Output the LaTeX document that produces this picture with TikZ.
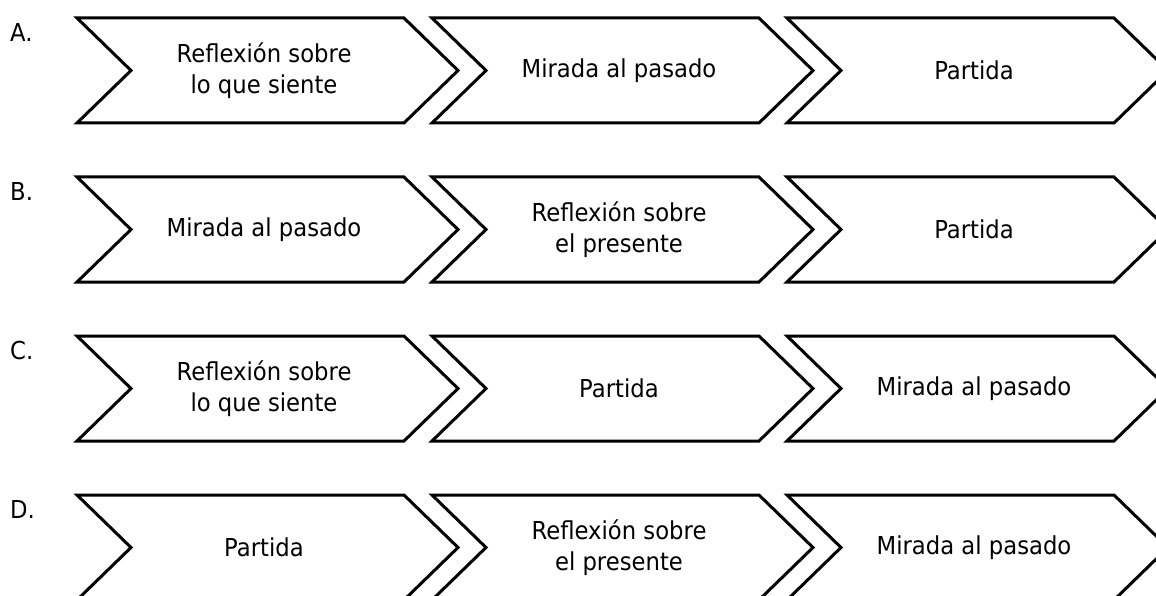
\documentclass[tikz,border=0pt]{standalone}
\usepackage{fontspec}
\setmainfont[FakeStretch=0.92]{DejaVu Sans}
\tikzset{
  chev/.style={draw=black, fill=white, line width=3pt, line join=miter},
  lbl/.style={font=\fontsize{24.7}{31}\selectfont, align=center, inner sep=0pt, text=black},
  optlbl/.style={font=\fontsize{24.7}{31}\selectfont, inner sep=0pt, anchor=base west, text=black}
}
\newcommand{\mychev}[4]{%
  \draw[chev] (#1,#2) -- ++(327,0) -- ++(54,52.5) -- ++(-54,52.5) -- ++(-327,0) -- ++(54,-52.5) -- cycle;
  \node[lbl] (#3) at ({#1+187},{#2+52.5}) {#4};}
\begin{document}
\begin{tikzpicture}[x=1pt,y=-1pt]
\useasboundingbox (0,0) rectangle (1156,596);
\fill[white] (0,0) rectangle (1156,596);
\clip (0,0) rectangle (1156,596);
% row A
\node[optlbl] (la) at (10,41.5) {A.};
\mychev{77}{18}{a1}{Reflexión sobre\\lo que siente}
\mychev{432}{18}{a2}{Mirada al pasado}
\mychev{787}{18}{a3}{Partida}
% row B
\node[optlbl] (lb) at (10,200.5) {B.};
\mychev{77}{177}{b1}{Mirada al pasado}
\mychev{432}{177}{b2}{Reflexión sobre\\el presente}
\mychev{787}{177}{b3}{Partida}
% row C
\node[optlbl] (lc) at (10,359.5) {C.};
\mychev{77}{336}{c1}{Reflexión sobre\\lo que siente}
\mychev{432}{336}{c2}{Partida}
\mychev{787}{336}{c3}{Mirada al pasado}
% row D
\node[optlbl] (ld) at (10,518.5) {D.};
\mychev{77}{495}{d1}{Partida}
\mychev{432}{495}{d2}{Reflexión sobre\\el presente}
\mychev{787}{495}{d3}{Mirada al pasado}
\end{tikzpicture}
\end{document}
